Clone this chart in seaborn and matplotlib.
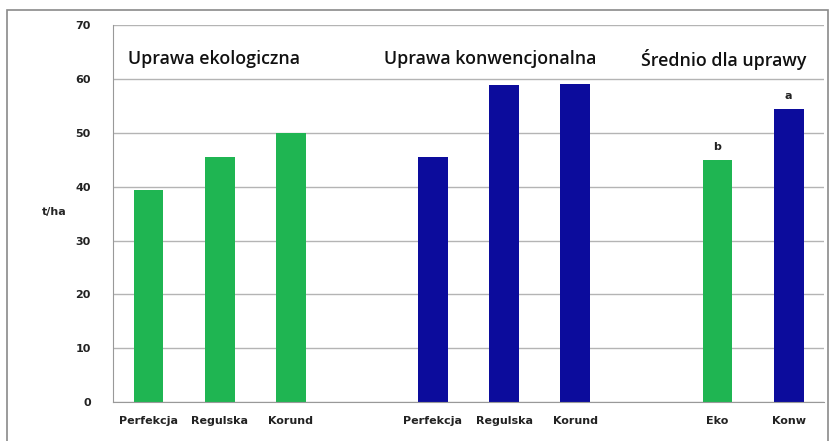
import pandas as pd
import seaborn as sns
import matplotlib.pyplot as plt
from matplotlib.patches import Rectangle

# dane (t/ha)
etykiety = ["Perfekcja", "Regulska", "Korund", "", "Perfekcja", "Regulska", "Korund", "", "Eko", "Konw"]
pozycje = [0, 1, 2, 4, 5, 6, 8, 9]
wartosci = [39.4, 45.6, 49.9, 45.5, 58.9, 59.0, 44.9, 54.4]
system = ["eko", "eko", "eko", "konw", "konw", "konw", "eko", "konw"]
litery = {8: "b", 9: "a"}
grupy = ["Uprawa ekologiczna", "Uprawa konwencjonalna", "Średnio dla uprawy"]
grupy_x = [0.92, 4.8, 8.09]

df = pd.DataFrame({"poz": pozycje, "plon": wartosci, "system": system})
kolory = {"eko": "#1fb552", "konw": "#0c0c9c"}

sns.set_style("white")
fig = plt.figure(figsize=(8.3, 4.41), dpi=100)
ax = fig.add_axes([0.136, 0.088, 0.857, 0.855])

sns.barplot(data=df, x="poz", y="plon", hue="system", order=list(range(10)),
            palette=kolory, saturation=1, dodge=False, width=0.42, legend=False, ax=ax,
            edgecolor="none")

for p, v in zip(pozycje, wartosci):
    if p in litery:
        ax.text(p, v + 1.6, litery[p], ha="center", va="bottom", fontsize=8, fontweight="bold", color="#222222")

for t, x in zip(grupy, grupy_x):
    ax.text(x, 63.7, t, ha="center", va="center", fontsize=12.8, color="#111111", family="Open Sans", fontweight="semibold")

ax.set_ylim(0, 70)
ax.set_xlim(-0.5, 9.5)
ax.set_yticks(range(0, 71, 10))
ax.yaxis.grid(True, color="#b4b4b4", linewidth=1)
ax.set_axisbelow(True)
ax.set_xticks(range(10))
ax.set_xticklabels(etykiety)
ax.set_xticks([i - 0.5 for i in range(11)], minor=True)
ax.tick_params(axis="x", which="major", length=0, pad=10, labelsize=8, colors="#222222")
ax.tick_params(axis="x", which="minor", length=4, color="#999999", direction="out")
ax.tick_params(axis="y", length=5, color="#999999", direction="out", labelsize=8, pad=11, colors="#222222")
for lab in ax.get_xticklabels() + ax.get_yticklabels():
    lab.set_fontweight("bold")
ax.set_xlabel("")
ax.set_ylabel("t/ha", rotation=0, fontsize=8, fontweight="bold")
ax.yaxis.set_label_coords(-0.083, 0.49)
for s in ["top", "right"]:
    ax.spines[s].set_visible(False)
ax.spines["left"].set_color("#999999")
ax.spines["bottom"].set_color("#999999")

fig.add_artist(Rectangle((0.008, -0.05), 0.99, 1.027, transform=fig.transFigure,
                         fill=False, edgecolor="#8a8a8a", linewidth=1.2))

fig.savefig("out.png", dpi=100)
